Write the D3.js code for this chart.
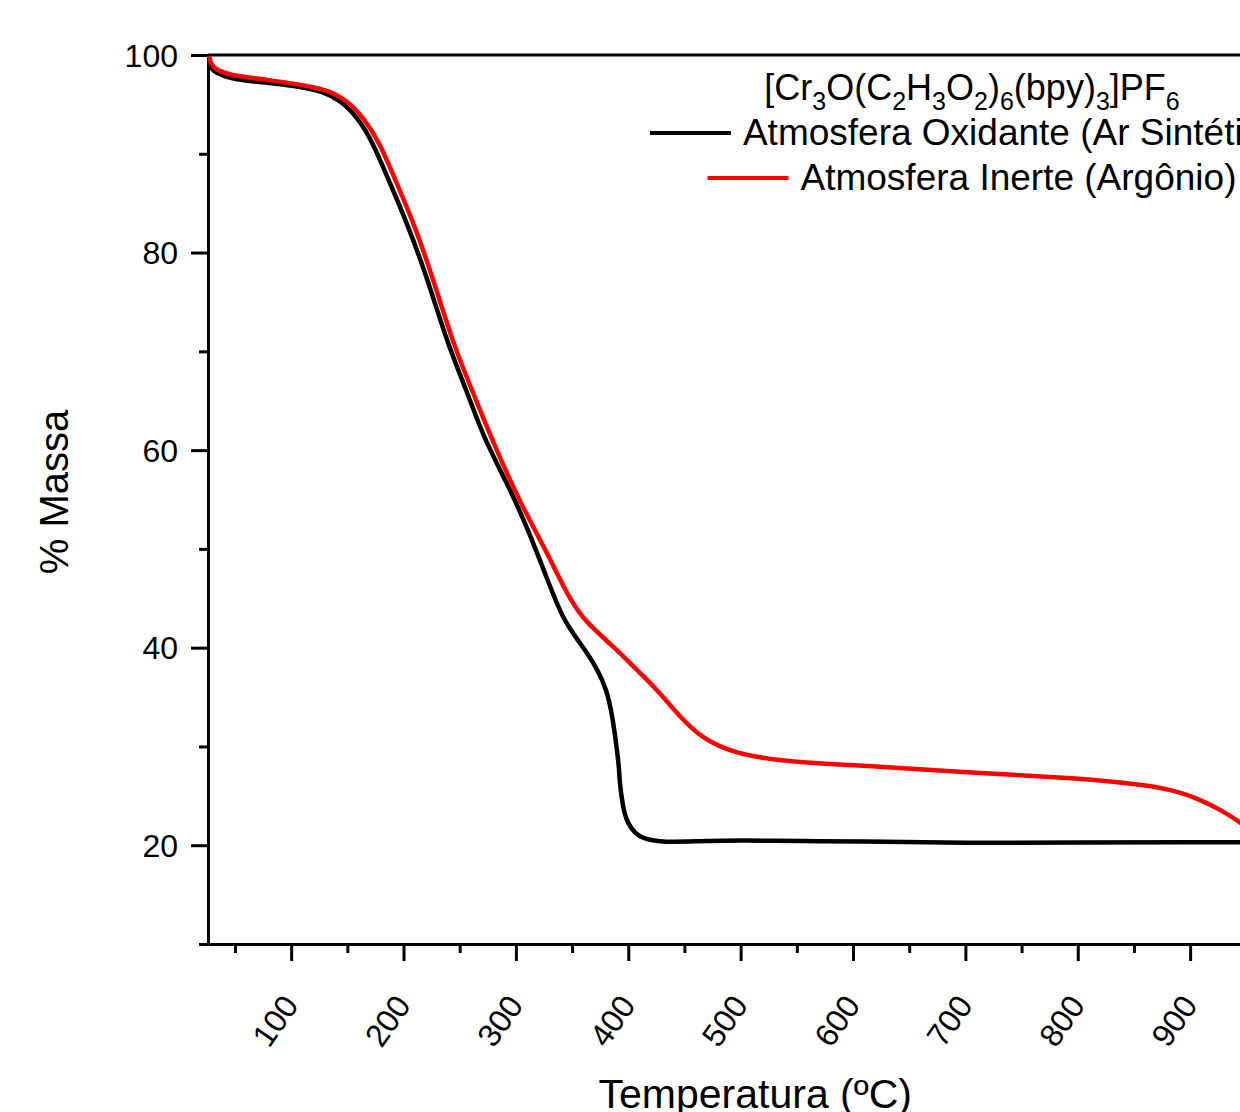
<!DOCTYPE html>
<meta charset="utf-8">
<script src="https://d3js.org/d3.v7.js"></script>
<style>
  body { margin: 0; background: #fff; }
  text { font-family: "Liberation Sans", Arial, sans-serif; fill: #000; }
</style>
<div id="my_dataviz"></div>
<script>

// data
var tempOx = [27, 27.5, 29, 33, 48, 79, 108, 128, 144, 159, 173, 188, 203, 221, 239, 257, 271, 292, 310, 328, 342, 357, 372, 381, 386, 390, 392, 392, 395, 399, 406, 413, 428, 460, 500, 560, 600, 700, 800, 900, 950];
var massOx = [99.8, 99.2, 98.6, 98.2, 97.5, 97.2, 96.8, 96.3, 95.4, 93.7, 91.1, 87.0, 83.0, 77.5, 70.8, 65.8, 61.3, 56.7, 52.2, 46.9, 42.8, 40.5, 38.0, 35.7, 33.0, 29.6, 27.6, 26.8, 23.9, 22.3, 21.2, 20.7, 20.3, 20.4, 20.5, 20.4, 20.4, 20.2, 20.3, 20.3, 20.3];

var tempIn = [27, 28, 32, 48, 79, 108, 132, 150, 164, 179, 194, 209, 226, 244, 262, 280, 304, 328, 348, 363, 387, 408, 426, 446, 464, 488, 517, 562, 606, 695, 802, 862, 891, 909, 927, 945, 955];
var massIn = [99.9, 99.3, 98.5, 97.9, 97.5, 97.0, 96.5, 95.4, 93.7, 91.1, 87.0, 83.0, 77.5, 70.8, 65.8, 60.7, 54.6, 49.6, 44.8, 42.5, 40.1, 37.7, 35.7, 33.0, 31.0, 29.6, 28.8, 28.3, 28.1, 27.4, 26.8, 26.1, 25.4, 24.6, 23.6, 22.3, 21.3];

var xMajor = [100, 200, 300, 400, 500, 600, 700, 800, 900];
var xMinor = [50, 150, 250, 350, 450, 550, 650, 750, 850, 950];
var yMajor = [20, 40, 60, 80, 100];
var yMinor = [10, 30, 50, 70, 90];

var seriesNames = ["Atmosfera Oxidante (Ar Sintético)", "Atmosfera Inerte (Argônio)"];
var seriesColors = ["#000000", "#ff0000"];

// set the dimensions and margins of the graph
var W = 1240, H = 1112;
var margin = {top: 55, left: 208},
    width = 1094.5,
    height = 889;

var svg = d3.select("#my_dataviz")
  .append("svg")
    .attr("width", W)
    .attr("height", H);

var g = svg.append("g")
    .attr("transform", "translate(" + margin.left + "," + margin.top + ")");

var x = d3.scaleLinear().domain([26, 1000]).range([0, width]);
var y = d3.scaleLinear().domain([10, 100]).range([height, 0]);

// top frame line
g.append("line")
  .attr("x1", 0).attr("x2", width)
  .attr("y1", 0).attr("y2", 0)
  .attr("stroke", "#000").attr("stroke-width", 3);

// X axis (major + minor)
var xAx = g.append("g")
  .attr("transform", "translate(0," + height + ")")
  .call(d3.axisBottom(x).tickValues(xMajor).tickSize(17).tickSizeOuter(0).tickFormat(d3.format("d")));
g.append("g")
  .attr("transform", "translate(0," + height + ")")
  .call(d3.axisBottom(x).tickValues(xMinor).tickSize(9).tickSizeOuter(0).tickFormat(""));

xAx.selectAll("text")
  .style("font-size", "32px")
  .attr("text-anchor", "end")
  .attr("dominant-baseline", "central")
  .attr("y", 0).attr("dy", 0)
  .attr("transform", "translate(-1,55) rotate(-55)");

// Y axis (major + minor)
var yAx = g.append("g")
  .call(d3.axisLeft(y).tickValues(yMajor).tickSize(17).tickSizeOuter(0));
g.append("g")
  .call(d3.axisLeft(y).tickValues(yMinor).tickSize(9).tickSizeOuter(0).tickFormat(""));

yAx.selectAll("text")
  .style("font-size", "32px")
  .attr("x", -30)
  .attr("dy", "0.35em");

g.selectAll(".domain").attr("stroke-width", 3);
g.selectAll(".tick line").attr("stroke-width", 3);

// curves
var line = d3.line()
  .x(function(d) { return x(d[0]); })
  .y(function(d) { return y(d[1]); })
  .curve(d3.curveBasis);

var series = [d3.zip(tempOx, massOx), d3.zip(tempIn, massIn)];

g.selectAll(".curve")
  .data(series)
  .enter()
  .append("path")
    .attr("class", "curve")
    .attr("fill", "none")
    .attr("stroke", function(d, i) { return seriesColors[i]; })
    .attr("stroke-width", 4.5)
    .attr("stroke-linejoin", "round")
    .attr("d", line);

// axis titles
svg.append("text")
  .attr("x", margin.left + width / 2)
  .attr("y", 1108)
  .attr("text-anchor", "middle")
  .style("font-size", "41px")
  .text("Temperatura (ºC)");

svg.append("text")
  .attr("transform", "translate(68,492) rotate(-90)")
  .attr("text-anchor", "middle")
  .style("font-size", "40px")
  .text("% Massa");

// legend
var legCx = 972;
var title = svg.append("text")
  .attr("x", legCx).attr("y", 100)
  .attr("text-anchor", "middle")
  .style("font-size", "36px");
var parts = [["[Cr", 0], ["3", 1], ["O(C", 0], ["2", 1], ["H", 0], ["3", 1], ["O", 0], ["2", 1], [")", 0], ["6", 1], ["(bpy)", 0], ["3", 1], ["]PF", 0], ["6", 1]];
var shift = 0;
parts.forEach(function(p) {
  var dy = p[1] ? 10 - shift : -shift;
  shift = p[1] ? 10 : 0;
  title.append("tspan")
    .attr("dy", dy)
    .style("font-size", p[1] ? "25px" : "36px")
    .text(p[0]);
});

var legY = [133, 178];
seriesNames.forEach(function(name, i) {
  var t = svg.append("text")
    .attr("y", legY[i] + 12)
    .style("font-size", "37px")
    .text(name);
  var tw = t.node().getComputedTextLength();
  var total = 81 + 12 + tw;
  var x0 = legCx - total / 2;
  t.attr("x", x0 + 93);
  svg.append("line")
    .attr("x1", x0).attr("x2", x0 + 81)
    .attr("y1", legY[i]).attr("y2", legY[i])
    .attr("stroke", seriesColors[i])
    .attr("stroke-width", 4);
});

</script>
